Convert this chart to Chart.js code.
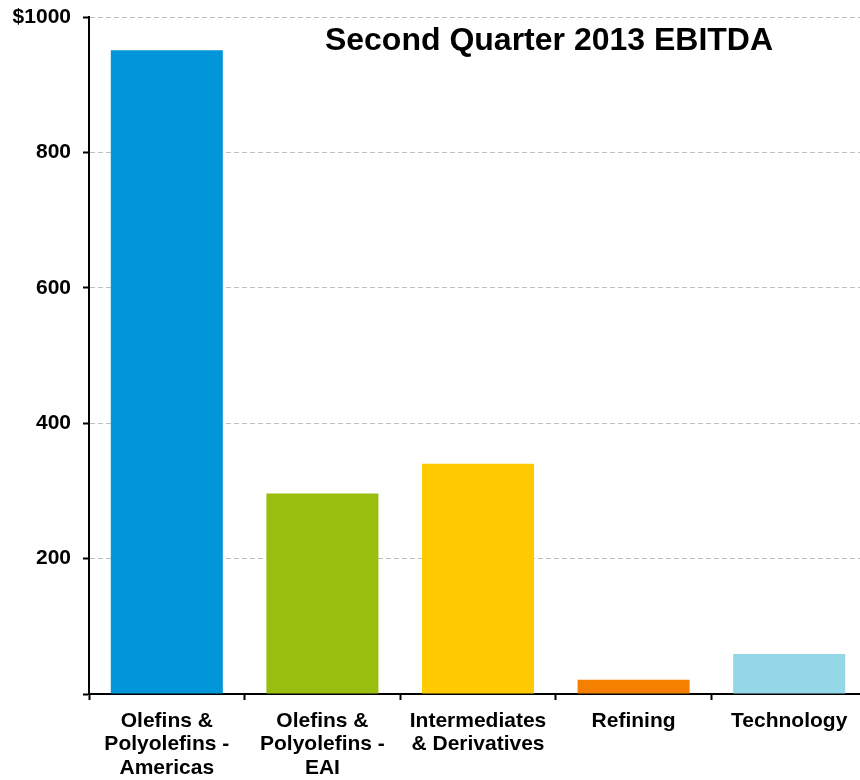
<!DOCTYPE html>
<html>
<head>
<meta charset="utf-8">
<script src="https://cdn.jsdelivr.net/npm/chart.js@4/dist/chart.umd.min.js"></script>
<style>
  html, body { margin: 0; padding: 0; background: #fff; overflow: hidden; }
  #wrap { width: 880px; height: 780px; }
</style>
</head>
<body>
<div id="wrap"><canvas id="graficoEbitda"></canvas></div>
<script>
// Segmentos y valores (millones de $)
var segmentos = [
  ["Olefins &", "Polyolefins -", "Americas"],
  ["Olefins &", "Polyolefins -", "EAI"],
  ["Intermediates", "& Derivatives"],
  ["Refining"],
  ["Technology"]
];
var ebitda = [951, 296, 340, 21, 59];
var colores = ["#0096D9", "#99BE10", "#FFCA00", "#F58000", "#94D7E6"];
var marcasY = [0, 200, 400, 600, 800, 1000];
var titulo = "Second Quarter 2013 EBITDA";

var fuente = "'Liberation Sans', Arial, sans-serif";

// Titulo dentro del area del grafico
var pluginTitulo = {
  id: "tituloInterno",
  afterDraw: function (chart) {
    var ctx = chart.ctx;
    var area = chart.chartArea;
    ctx.save();
    ctx.font = "bold 32px " + fuente;
    ctx.fillStyle = "#000";
    ctx.textAlign = "center";
    ctx.textBaseline = "alphabetic";
    ctx.fillText(titulo, area.left + 460, area.top + 33);
    ctx.restore();
  }
};

document.addEventListener("DOMContentLoaded", function () {
  var configEbitda = {
    type: "bar",
    data: {
      labels: segmentos,
      datasets: [
        {
          label: "EBITDA",
          data: ebitda,
          backgroundColor: colores,
          borderWidth: 0,
          barPercentage: 0.72,
          categoryPercentage: 1.0
        }
      ]
    },
    options: {
      responsive: true,
      maintainAspectRatio: false,
      animation: false,
      layout: { padding: { top: 17, right: 13, left: 0, bottom: 0 } },
      plugins: {
        legend: { display: false },
        tooltip: { enabled: false }
      },
      scales: {
        x: {
          offset: true,
          grid: {
            offset: true,
            drawOnChartArea: false,
            drawTicks: true,
            tickLength: 6,
            tickColor: "#000",
            tickWidth: 2
          },
          border: { display: true, color: "#000", width: 2 },
          ticks: {
            color: "#000",
            padding: 10,
            maxRotation: 0,
            autoSkip: false,
            font: { family: fuente, size: 21, weight: "bold", lineHeight: 1.1 }
          },
          afterFit: function (scale) { scale.height = 86; }
        },
        y: {
          min: 0,
          max: 1000,
          afterBuildTicks: function (scale) {
            scale.ticks = marcasY.map(function (v) { return { value: v }; });
          },
          grid: {
            color: "#C0C0C0",
            lineWidth: 1,
            drawTicks: true,
            tickLength: 6,
            tickColor: "#000",
            tickWidth: 2,
            tickBorderDash: []
          },
          // en v4 border.dash punteado afecta a las lineas de la rejilla
          border: { display: true, color: "#000", width: 2, dash: [5, 3] },
          ticks: {
            color: "#000",
            padding: 12,
            font: { family: fuente, size: 21, weight: "bold" },
            callback: function (v) {
              if (v === 0) return "";
              return v === 1000 ? "$" + v : "" + v;
            }
          },
          afterFit: function (scale) {
            scale.width = 89;
            scale.paddingTop = 0;
            scale.paddingBottom = 0;
          }
        }
      }
    },
    plugins: [pluginTitulo]
  };

  new Chart(document.getElementById("graficoEbitda"), configEbitda);
});
</script>
</body>
</html>
